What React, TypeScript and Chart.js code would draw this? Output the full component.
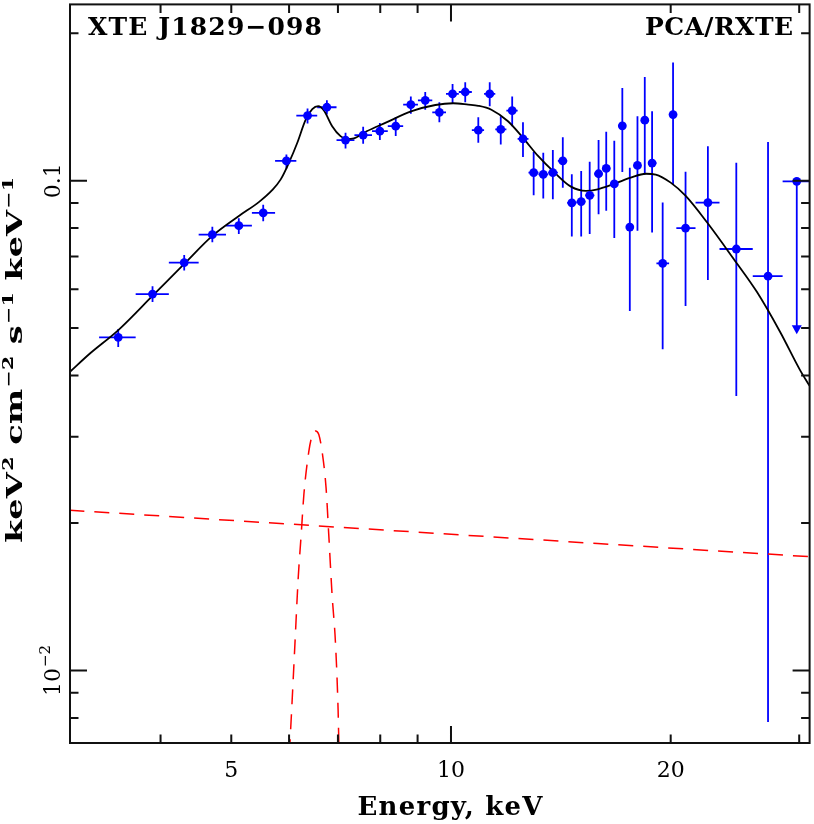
import React, { useEffect, useRef } from "react";
import { Chart, registerables } from "chart.js";

Chart.register(...registerables);

// ---------- data (keV, keV^2 cm^-2 s^-1 keV^-1) ----------
const energy = [
  3.50, 3.90, 4.31, 4.71, 5.12, 5.53, 5.95, 6.36, 6.76, 7.17, 7.58, 7.99, 8.40, 8.81, 9.22,
  9.64, 10.05, 10.46, 10.90, 11.30, 11.70, 12.13, 12.55, 12.98, 13.38, 13.79, 14.23, 14.64,
  15.08, 15.49, 15.93, 16.32, 16.74, 17.17, 17.58, 18.01, 18.43, 18.86, 19.50, 20.15, 20.96,
  22.49, 24.60, 27.19,
];
const binEdges = [
  3.295, 3.698, 4.106, 4.511, 4.917, 5.336, 5.741, 6.139, 6.557, 6.969, 7.374, 7.795, 8.192,
  8.600, 9.010, 9.427, 9.844, 10.25, 10.68, 11.10, 11.50, 11.91, 12.34, 12.77, 13.18, 13.59,
  14.01, 14.43, 14.86, 15.28, 15.72, 16.13, 16.53, 16.95, 17.37, 17.80, 18.22, 18.64, 19.12,
  19.90, 20.36, 21.63, 23.33, 25.91, 28.47,
];
const flux = [
  0.04788, 0.05866, 0.06803, 0.07757, 0.08091, 0.08598, 0.1097, 0.1358, 0.1412, 0.1210,
  0.1239, 0.1262, 0.1292, 0.1429, 0.1459, 0.1379, 0.1503, 0.1517, 0.1268, 0.1503, 0.1272,
  0.1390, 0.1217, 0.1038, 0.1030, 0.1038, 0.1097, 0.09009, 0.09064, 0.09335, 0.1033, 0.1059,
  0.09846, 0.1294, 0.08038, 0.1074, 0.1329, 0.1086, 0.06781, 0.1364, 0.08000, 0.09021,
  0.07251, 0.06381,
];
const fluxLo = [
  0.04577, 0.05650, 0.06553, 0.07482, 0.07779, 0.08267, 0.1058, 0.1308, 0.1364, 0.1163,
  0.1189, 0.1210, 0.1233, 0.1370, 0.1396, 0.1316, 0.1436, 0.1445, 0.1195, 0.1419, 0.1185,
  0.1292, 0.1117, 0.09335, 0.09192, 0.09162, 0.09677, 0.07695, 0.07695, 0.07779, 0.08542,
  0.08679, 0.07634, 0.1042, 0.05417, 0.07903, 0.1029, 0.07841, 0.04528, 0.09828, 0.05545,
  0.06272, 0.03634, 0.007849,
];
const fluxHi = [
  0.04978, 0.06089, 0.07050, 0.08053, 0.08384, 0.08926, 0.1131, 0.1403, 0.1459, 0.1252,
  0.1288, 0.1312, 0.1349, 0.1486, 0.1517, 0.1445, 0.1575, 0.1588, 0.1347, 0.1588, 0.1354,
  0.1486, 0.1316, 0.1144, 0.1140, 0.1155, 0.1227, 0.1030, 0.1046, 0.1093, 0.1210, 0.1258,
  0.1206, 0.1546, 0.1063, 0.1354, 0.1627, 0.1386, 0.09021, 0.1743, 0.1043, 0.1176, 0.1088,
  0.1199,
];
// upper limit (last bin)
const ulEnergy = [29.77];
const ulEdges = [28.47, 31.5];
const ulFlux = [0.0997];
const ulTip = [0.0486];

// total model
const modelE = [
  3.006, 3.201, 3.498, 3.905, 4.31, 4.714, 5.127, 5.459, 5.692, 5.844, 5.998, 6.158, 6.323,
  6.456, 6.578, 6.697, 6.874, 7.057, 7.199, 7.359, 7.664, 8.128, 8.836, 9.519, 10.07, 10.56,
  10.90, 11.36, 11.97, 12.55, 13.16, 13.87, 14.60, 15.31, 15.88, 16.74, 17.63, 18.49, 19.08,
  20.00, 20.97, 22.44, 24.40, 26.26, 28.25, 30.08, 31.0,
];
const modelF = [
  0.04071, 0.04436, 0.04948, 0.05831, 0.06759, 0.0772, 0.08478, 0.09051, 0.09574, 0.1006,
  0.1088, 0.1195, 0.1332, 0.1399, 0.1419, 0.1391, 0.1292, 0.1233, 0.1217, 0.1220, 0.1261,
  0.1312, 0.1386, 0.1427, 0.1439, 0.1430, 0.1422, 0.1396, 0.1322, 0.1223, 0.1123, 0.1038,
  0.09723, 0.0953, 0.09601, 0.09851, 0.1014, 0.1033, 0.1029, 0.09907, 0.09309, 0.08213,
  0.06919, 0.05922, 0.04909, 0.04104, 0.0381,
];
// continuum component
const contE = [3.0, 15.88, 31.0];
const contF = [0.02124, 0.01816, 0.01707];
// iron line component
const lineE = [
  5.98, 6.017, 6.049, 6.112, 6.176, 6.234, 6.287, 6.386, 6.447, 6.522, 6.590, 6.659, 6.743,
  6.800, 6.871, 6.947, 7.004, 7.020, 7.06,
];
const lineF = [
  0.0060, 0.00714, 0.008293, 0.011332, 0.015475, 0.018961, 0.02287, 0.028, 0.03003, 0.03084,
  0.03031, 0.028, 0.023587, 0.018961, 0.01432, 0.011332, 0.008293, 0.00714, 0.0060,
];

// axes
const xMin = 3.006;
const xMax = 31.0;
const yMin = 0.00711;
const yMax = 0.229;
const xMajorTicks = [10];
const xMinorTicks = [4, 5, 6, 7, 8, 9, 20, 30];
const xTickLabels = [5, 10, 20];
const yMajorTicks = [0.01, 0.1];
const yMinorTicks = [0.008, 0.009, 0.02, 0.03, 0.04, 0.05, 0.06, 0.07, 0.08, 0.09, 0.2];

const SERIF = '"DejaVu Serif", "Liberation Serif", serif';
const BLUE = "#0000ff";
const RED = "#ff0000";
const INK = "#111111";

function fitText(
  ctx: CanvasRenderingContext2D,
  text: string,
  x: number,
  y: number,
  width: number,
  align: "left" | "right" | "center"
) {
  const c: any = ctx;
  c.letterSpacing = "0px";
  const w = ctx.measureText(text).width;
  const n = Array.from(text).length;
  const ls = n > 1 ? (width - w) / (n - 1) : 0;
  c.letterSpacing = ls + "px";
  let start = x;
  if (align === "right") start = x - width;
  if (align === "center") start = x - width / 2;
  ctx.textAlign = "left";
  ctx.fillText(text, start, y);
  c.letterSpacing = "0px";
}

const plotDecor = {
  id: "plotDecor",
  beforeDatasetsDraw(chart: any) {
    const { ctx, chartArea: a } = chart;
    const xs = chart.scales.x;
    const ys = chart.scales.y;
    ctx.save();
    ctx.beginPath();
    ctx.rect(a.left, a.top, a.right - a.left, a.bottom - a.top);
    ctx.clip();
    ctx.strokeStyle = BLUE;
    ctx.fillStyle = BLUE;
    ctx.lineWidth = 1.8;
    ctx.beginPath();
    for (let i = 0; i < energy.length; i++) {
      const px = xs.getPixelForValue(energy[i]);
      const py = ys.getPixelForValue(flux[i]);
      ctx.moveTo(px, ys.getPixelForValue(fluxLo[i]));
      ctx.lineTo(px, ys.getPixelForValue(fluxHi[i]));
      ctx.moveTo(xs.getPixelForValue(binEdges[i]), py);
      ctx.lineTo(xs.getPixelForValue(binEdges[i + 1]), py);
    }
    for (let i = 0; i < ulEnergy.length; i++) {
      const px = xs.getPixelForValue(ulEnergy[i]);
      const py = ys.getPixelForValue(ulFlux[i]);
      const tip = ys.getPixelForValue(ulTip[i]);
      ctx.moveTo(xs.getPixelForValue(ulEdges[0]), py);
      ctx.lineTo(xs.getPixelForValue(ulEdges[1]), py);
      ctx.moveTo(px, py);
      ctx.lineTo(px, tip - 8);
    }
    ctx.stroke();
    for (let i = 0; i < ulEnergy.length; i++) {
      const px = xs.getPixelForValue(ulEnergy[i]);
      const tip = ys.getPixelForValue(ulTip[i]);
      ctx.beginPath();
      ctx.moveTo(px - 5, tip - 9);
      ctx.lineTo(px + 5, tip - 9);
      ctx.lineTo(px, tip);
      ctx.closePath();
      ctx.fill();
    }
    ctx.restore();
  },
  afterDraw(chart: any) {
    const { ctx, chartArea: a } = chart;
    const xs = chart.scales.x;
    const ys = chart.scales.y;
    ctx.save();
    ctx.strokeStyle = INK;
    ctx.lineWidth = 2;
    ctx.strokeRect(a.left, a.top, a.right - a.left, a.bottom - a.top);
    const major = 17;
    const minor = 8.5;
    ctx.beginPath();
    const xt = (v: number, len: number) => {
      const p = xs.getPixelForValue(v);
      if (p <= a.left + 1 || p >= a.right - 1) return;
      ctx.moveTo(p, a.bottom);
      ctx.lineTo(p, a.bottom - len);
      ctx.moveTo(p, a.top);
      ctx.lineTo(p, a.top + len);
    };
    const yt = (v: number, len: number) => {
      const p = ys.getPixelForValue(v);
      if (p <= a.top + 1 || p >= a.bottom - 1) return;
      ctx.moveTo(a.left, p);
      ctx.lineTo(a.left + len, p);
      ctx.moveTo(a.right, p);
      ctx.lineTo(a.right - len, p);
    };
    xMajorTicks.forEach((v) => xt(v, major));
    xMinorTicks.forEach((v) => xt(v, minor));
    yMajorTicks.forEach((v) => yt(v, major));
    yMinorTicks.forEach((v) => yt(v, minor));
    ctx.stroke();

    ctx.fillStyle = "#000";
    // x tick labels
    ctx.font = `22px ${SERIF}`;
    ctx.textAlign = "center";
    ctx.textBaseline = "alphabetic";
    xTickLabels.forEach((v) => {
      ctx.fillText(String(v), xs.getPixelForValue(v), a.bottom + 34);
    });
    // y tick labels (rotated)
    const yLab = (v: number) => {
      const p = ys.getPixelForValue(v);
      ctx.save();
      ctx.translate(a.left - 10, p);
      ctx.rotate(-Math.PI / 2);
      const exp = Math.round(Math.log10(v));
      if (exp === -1) {
        ctx.font = `22px ${SERIF}`;
        ctx.textAlign = "center";
        ctx.fillText("0.1", 0, 0);
      } else {
        ctx.font = `22px ${SERIF}`;
        const base = "10";
        const wb = ctx.measureText(base).width;
        ctx.font = `15px ${SERIF}`;
        const sup = "\u2212" + String(-exp);
        const ws = ctx.measureText(sup).width;
        const start = -(wb + ws + 1) / 2;
        ctx.textAlign = "left";
        ctx.font = `22px ${SERIF}`;
        ctx.fillText(base, start, 0);
        ctx.font = `15px ${SERIF}`;
        ctx.fillText(sup, start + wb + 1, -10);
      }
      ctx.restore();
    };
    yMajorTicks.forEach(yLab);

    // x title
    ctx.font = `bold 26px ${SERIF}`;
    fitText(ctx, "Energy, keV", 450, 815, 185, "center");

    // y title
    ctx.save();
    ctx.translate(22, 360);
    ctx.rotate(-Math.PI / 2);
    const segs: [string, boolean][] = [
      ["keV", false],
      ["2", true],
      [" cm", false],
      ["\u22122", true],
      [" s", false],
      ["\u22121", true],
      [" keV", false],
      ["\u22121", true],
    ];
    const mainFont = `bold 23px ${SERIF}`;
    const supFont = `bold 14px ${SERIF}`;
    let total = 0;
    const widths = segs.map(([t, s]) => {
      ctx.font = s ? supFont : mainFont;
      const w = ctx.measureText(t).width + (s ? 1 : 0);
      total += w;
      return w;
    });
    const target = 366;
    const sx = target / total;
    ctx.scale(sx, 1);
    let cx = -total / 2;
    ctx.textAlign = "left";
    segs.forEach(([t, s], i) => {
      ctx.font = s ? supFont : mainFont;
      ctx.fillText(t, cx + (s ? 1 : 0), s ? -9 : 0);
      cx += widths[i];
    });
    ctx.restore();

    // in-plot labels
    ctx.font = `bold 25px ${SERIF}`;
    fitText(ctx, "XTE J1829\u2212098", 88, 35, 234, "left");
    fitText(ctx, "PCA/RXTE", 793, 35, 148, "right");
    ctx.restore();
  },
};

export default function App() {
  const ref = useRef<HTMLCanvasElement>(null);
  useEffect(() => {
    const pts = energy.map((e, i) => ({ x: e, y: flux[i] }));
    const ul = ulEnergy.map((e, i) => ({ x: e, y: ulFlux[i] }));
    const model = modelE.map((e, i) => ({ x: e, y: modelF[i] }));
    const cont = contE.map((e, i) => ({ x: e, y: contF[i] }));
    const line = lineE.map((e, i) => ({ x: e, y: lineF[i] }));
    const chart = new Chart(ref.current as HTMLCanvasElement, {
      type: "line",
      data: {
        datasets: [
          {
            data: pts,
            showLine: false,
            pointRadius: 4.4,
            pointBackgroundColor: BLUE,
            pointBorderColor: BLUE,
            pointBorderWidth: 0,
            borderColor: BLUE,
          },
          {
            data: ul,
            showLine: false,
            pointRadius: 4.4,
            pointBackgroundColor: BLUE,
            pointBorderColor: BLUE,
            pointBorderWidth: 0,
            borderColor: BLUE,
          },
          {
            data: cont,
            borderColor: RED,
            borderWidth: 1.5,
            borderDash: [15, 10],
            pointRadius: 0,
            tension: 0,
          },
          {
            data: line,
            borderColor: RED,
            borderWidth: 1.5,
            borderDash: [15, 10],
            pointRadius: 0,
            cubicInterpolationMode: "monotone",
          },
          {
            data: model,
            borderColor: "#000",
            borderWidth: 1.8,
            pointRadius: 0,
            cubicInterpolationMode: "monotone",
          },
        ],
      },
      options: {
        responsive: false,
        animation: false,
        devicePixelRatio: 1,
        layout: { padding: { left: 70, right: 1, top: 1, bottom: 81 } },
        plugins: { legend: { display: false }, tooltip: { enabled: false } },
        scales: {
          x: { type: "logarithmic", min: xMin, max: xMax, display: false },
          y: { type: "logarithmic", min: yMin, max: yMax, display: false },
        },
      },
      plugins: [plotDecor],
    } as any);
    return () => chart.destroy();
  }, []);
  return (
    <div
      style={{
        position: "absolute",
        left: 0,
        top: 0,
        width: 814,
        height: 824,
        background: "#fff",
      }}
    >
      <canvas ref={ref} width={814} height={824} style={{ display: "block" }} />
    </div>
  );
}
